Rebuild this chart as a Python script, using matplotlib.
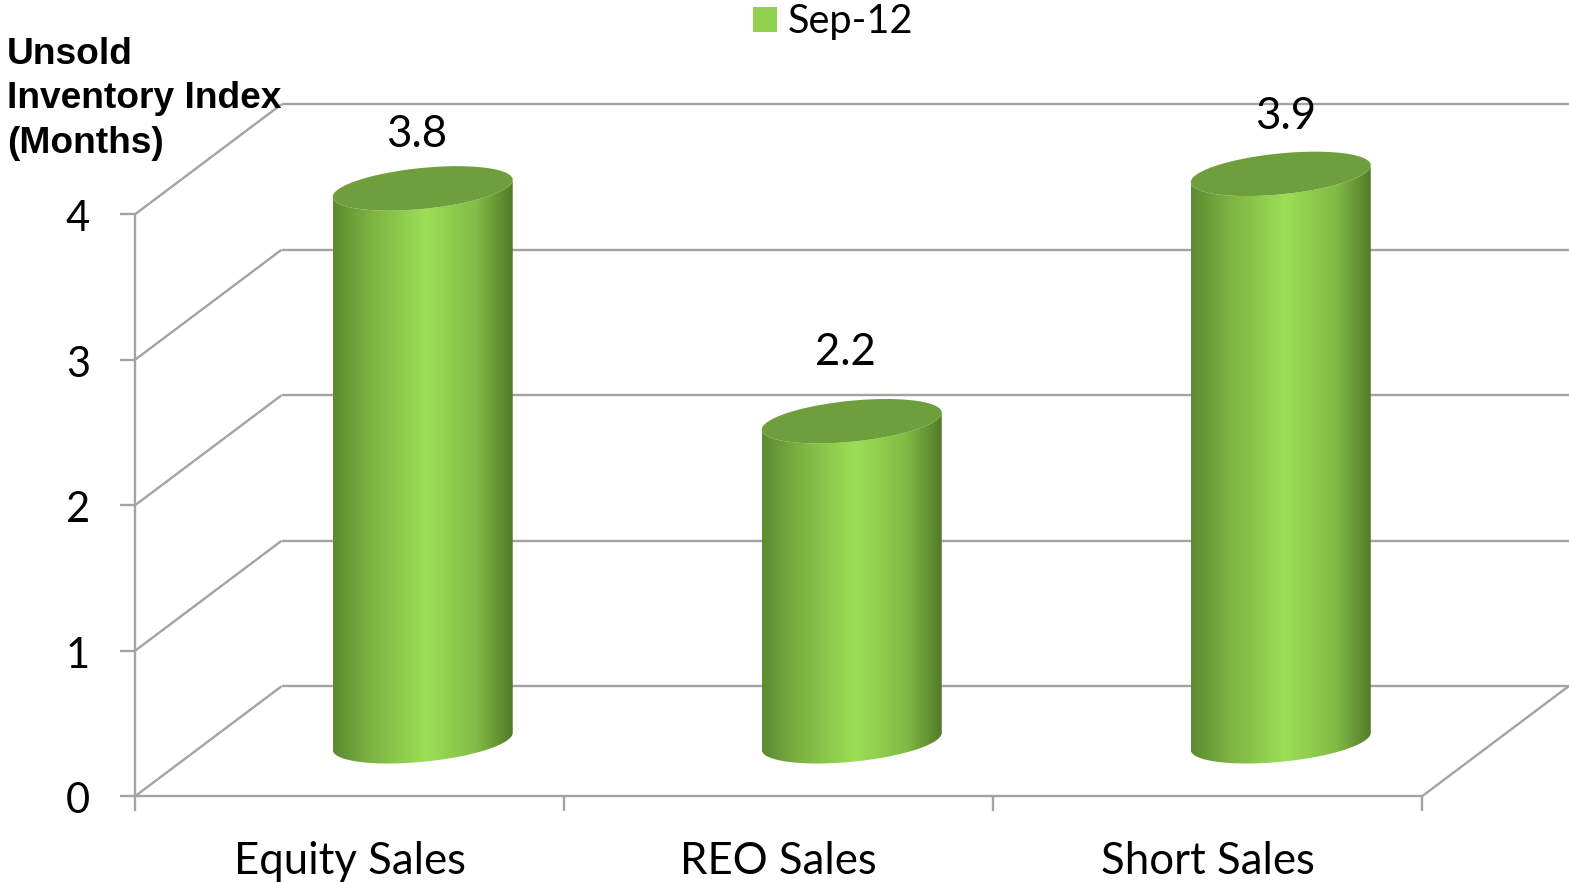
#!/usr/bin/env python3

import numpy as np
import matplotlib
matplotlib.use("Agg")
import matplotlib.pyplot as plt
from matplotlib.colors import LinearSegmentedColormap
from matplotlib.patches import Patch, Polygon

categories = ["Equity Sales", "REO Sales", "Short Sales"]
values = [3.8, 2.2, 3.9]
value_labels = ["3.8", "2.2", "3.9"]
y_ticks = [0, 1, 2, 3, 4]
series_name = "Sep-12"
y_title = "Unsold\nInventory Index\n(Months)"

W, H = 1569, 882
PX_X = 429     # pixels per category
PX_Y = 145.5   # pixels per unit of value
X0, Y0 = 135, 796.3  # pixel position of the front corner

# depth of the 3d box, in data units
DX = 146.5 / PX_X
DY = 110 / PX_Y

# cylinder shape, in data units
RX = 90 / PX_X
RY = 20.5 / PX_Y
SKEW = 8.5 / PX_Y

# label gap above the cylinder top, in pixels
label_gap = [54, 69, 57]
label_dx = [-6, -6, 5]

GREY = "#a3a3a3"
TOP = "#6f9e3c"
body_cmap = LinearSegmentedColormap.from_list(
    "body", [(0, "#5c8a30"), (0.2, "#7cb142"), (0.52, "#9cdf56"),
             (0.8, "#82bb45"), (1, "#527a29")])

plt.rcParams['font.family'] = ['Lato', 'DejaVu Sans']

fig = plt.figure(figsize=(W / 100, H / 100), dpi=100)
ax = fig.add_axes([0, 0, 1, 1])
ax.axis("off")

n = len(categories)
line = dict(color=GREY, lw=1.7, solid_capstyle="butt", zorder=1)

# walls
for v in y_ticks:
    ax.plot([DX, (W - X0) / PX_X], [v + DY, v + DY], **line)
    ax.plot([0, DX], [v, v + DY], **line)
    ax.plot([-15 / PX_X, 0], [v, v], **line)
    ax.text(-57 / PX_X, v - 5 / PX_Y, str(v), ha="center", va="center",
            fontsize=30)
ax.plot([n, n + DX], [0, DY], **line)
ax.plot([0, n], [0, 0], **line)
ax.plot([0, 0], [0, max(y_ticks)], **line)
for i in range(n + 1):
    ax.plot([i, i], [0, -15 / PX_Y], **line)

t = np.linspace(0, 2 * np.pi, 181)
gradient = np.linspace(0, 1, 256).reshape(1, -1)

# cylinders
for i, (name, val) in enumerate(zip(categories, values)):
    cx = i + 0.5 + DX / 2
    base = DY / 2
    top = val + DY / 2
    ex = cx + RX * np.cos(t)
    ey = RY * np.sin(t) + SKEW * np.cos(t)

    # body outline: lower half of the bottom ellipse plus the sides
    low = (t >= np.pi) & (t <= 2 * np.pi)
    xs = np.r_[ex[low], ex[low][::-1]]
    ys = np.r_[base + ey[low], top + ey[low][::-1]]
    body = Polygon(np.c_[xs, ys], closed=True, fc="none", ec="none")
    ax.add_patch(body)
    im = ax.imshow(gradient, cmap=body_cmap, aspect="auto", zorder=2,
                   extent=[cx - RX, cx + RX, base - 0.2, top + 0.2])
    im.set_clip_path(body)

    ax.add_patch(Polygon(np.c_[ex, top + ey], closed=True, fc=TOP, ec="none",
                         zorder=3))

    ax.text(cx + label_dx[i] / PX_X, top + label_gap[i] / PX_Y, value_labels[i],
            ha="center", va="center", fontsize=31.5, zorder=4)
    ax.text(i + 0.5, -65 / PX_Y, name, ha="center", va="center", fontsize=31.5)

ax.set_xlim(-X0 / PX_X, (W - X0) / PX_X)
ax.set_ylim((Y0 - H) / PX_Y, Y0 / PX_Y)

ax.text(7 / W, 1 - 37 / H, y_title, transform=ax.transAxes, ha="left", va="top",
        fontsize=26.7, fontweight="bold", family="Liberation Sans",
        linespacing=1.35, zorder=5)

ax.legend(handles=[Patch(fc="#92d050", ec="none", label=series_name)],
          loc="center", bbox_to_anchor=(833 / W, 1 - 22 / H), frameon=False,
          fontsize=28.5, handlelength=0.62, handleheight=0.62, handletextpad=0.27,
          borderpad=0, borderaxespad=0)

fig.savefig("out.png", dpi=100)
